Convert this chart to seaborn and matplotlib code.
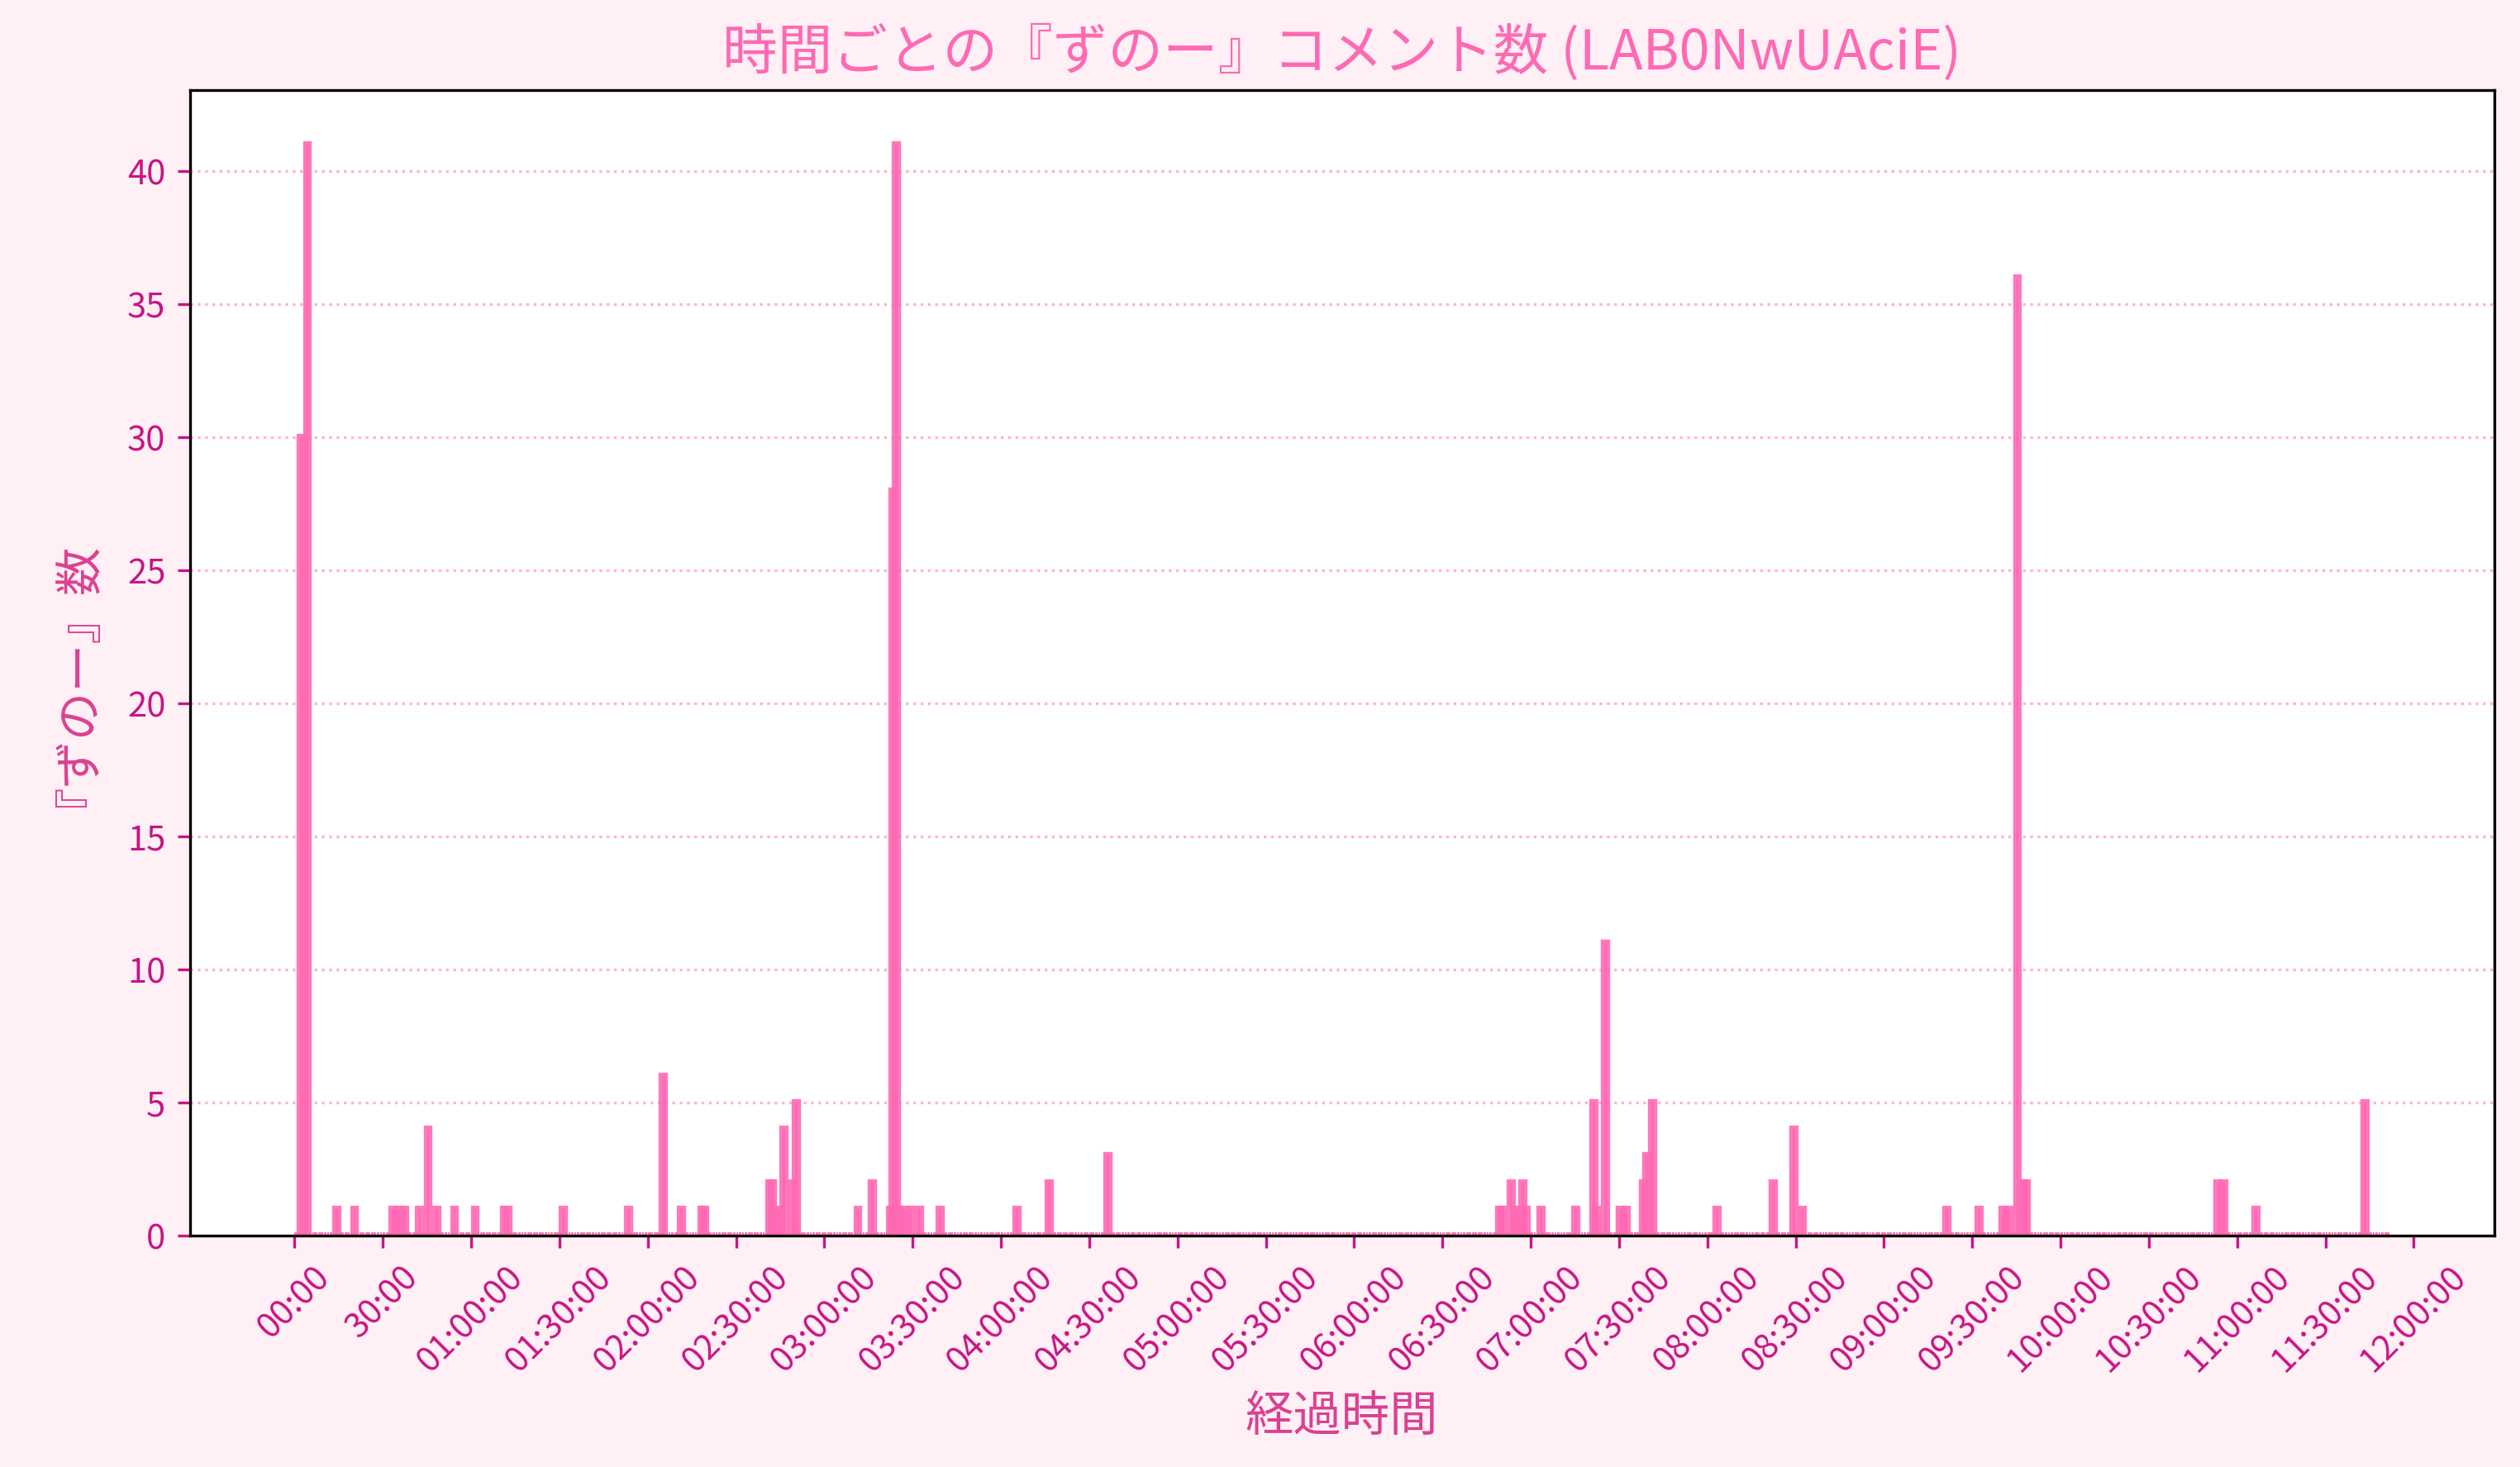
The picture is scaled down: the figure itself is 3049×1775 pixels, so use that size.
import numpy as np
import pandas as pd
import matplotlib
matplotlib.use("Agg")
import matplotlib.pyplot as plt
import seaborn as sns

# ---- data (minute offset from stream start -> number of 『ずのー』 comments) ----
TOTAL_MINUTES = 712
HIT_MINUTES = [2, 4, 14, 20, 33, 35, 37, 42, 45, 48, 54, 61, 71, 72, 91, 113, 125, 131, 138, 139,
               161, 162, 164, 166, 169, 170, 191, 196, 202, 203, 204, 205, 207, 209, 212, 219, 245, 256, 276,
               409, 410, 413, 415, 417, 418, 423, 435, 441, 442, 445, 450, 452, 458, 459, 461, 483, 502, 509, 512,
               561, 572, 580, 582, 585, 587, 588, 653, 655, 666, 703]
HIT_COUNTS = [30, 41, 1, 1, 1, 1, 1, 1, 4, 1, 1, 1, 1, 1, 1, 1, 6, 1, 1, 1,
              2, 2, 1, 4, 2, 5, 1, 2, 1, 28, 41, 1, 1, 1, 1, 1, 1, 2, 3,
              1, 1, 2, 1, 2, 1, 1, 1, 5, 1, 11, 1, 1, 2, 3, 5, 1, 2, 4, 1,
              1, 1, 1, 1, 36, 2, 2, 2, 2, 1, 5]
TICK_MINUTES = list(range(0, 721, 30))

TITLE = "時間ごとの『ずのー』コメント数 (LAB0NwUAciE)"
XLABEL = "経過時間"
YLABEL = "『ずのー』数"


def fmt_minutes(m):
    h, mm = divmod(int(m), 60)
    return f"{mm:02d}:00" if h == 0 else f"{h:02d}:{mm:02d}:00"


TICK_LABELS = [fmt_minutes(m) for m in TICK_MINUTES]

counts = np.zeros(TOTAL_MINUTES, dtype=int)
for m, c in zip(HIT_MINUTES, HIT_COUNTS):
    counts[m] = c

BAR_W = 0.8  # minutes
df = pd.DataFrame({"minute": np.arange(TOTAL_MINUTES), "count": counts})
df["x"] = df["minute"] + BAR_W / 2  # each bar starts at its minute

# ---- style ----
sns.set_theme(style="white")
plt.rcParams["font.family"] = ["Noto Sans CJK JP", "DejaVu Sans"]

BAR_COLOR = "#ff69b4"
TICK_COLOR = "#c71585"
LABEL_COLOR = "#db4191"
DPI = 300

fig, ax = plt.subplots(figsize=(3049 / DPI, 1775 / DPI), dpi=DPI)
fig.patch.set_facecolor("#fff0f5")
ax.set_facecolor("white")
fig.subplots_adjust(left=0.0753, right=0.9898, bottom=0.1577, top=0.9386)

sns.barplot(data=df, x="x", y="count", native_scale=True, width=BAR_W,
            color=BAR_COLOR, saturation=1, alpha=0.9, edgecolor=BAR_COLOR,
            linewidth=2, errorbar=None, ax=ax)

span = TOTAL_MINUTES - 1 + BAR_W
ax.set_xlim(-0.05 * span, span * 1.05)
ax.set_ylim(0, max(HIT_COUNTS) * 1.05)

ax.set_xticks(TICK_MINUTES)
ax.set_xticklabels(TICK_LABELS, rotation=45, ha="center")
ax.set_yticks(range(0, 41, 5))

ax.tick_params(axis="both", bottom=True, left=True, colors=TICK_COLOR,
               labelcolor=TICK_COLOR, length=3.5, width=0.8, labelsize=10)

ax.yaxis.grid(True, linestyle=":", color="#ffb6c1", linewidth=0.8)
ax.xaxis.grid(False)
ax.set_axisbelow(True)

for s in ax.spines.values():
    s.set_color("black")
    s.set_linewidth(0.8)

ax.set_title(TITLE, color=BAR_COLOR, fontsize=16)
ax.set_xlabel(XLABEL, color=LABEL_COLOR, fontsize=14)
ax.set_ylabel(YLABEL, color=LABEL_COLOR, fontsize=14, labelpad=14)

fig.savefig("out.png", dpi=DPI, facecolor=fig.get_facecolor())
